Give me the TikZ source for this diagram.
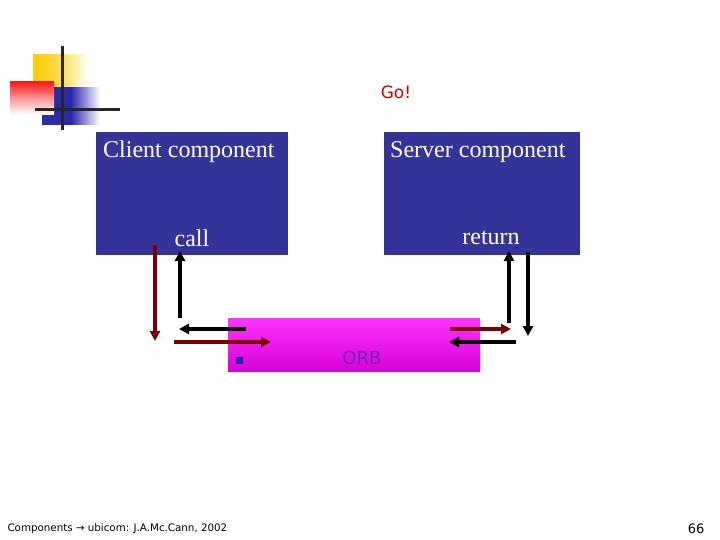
\documentclass[tikz,border=0pt]{standalone}
\usepackage{fontspec}
\setmainfont{Liberation Serif}
\newfontfamily\tah{DejaVu Sans}
\usetikzlibrary{arrows.meta}
\definecolor{boxblue}{HTML}{333399}
\definecolor{dred}{HTML}{7A0000}
\definecolor{gold}{HTML}{FFCC00}
\tikzset{comp/.style={fill=boxblue,draw=none},
 arr/.style={line width=3.8pt,-{Triangle[length=10pt,width=10pt]}},
 lbl/.style={text=white,font=\fontsize{24}{27}\selectfont,inner sep=0pt}}
\begin{document}
\begin{tikzpicture}[x=1pt,y=-1pt]
\useasboundingbox (0,0) rectangle (720,540);
% logo
\shade[left color=gold,right color=white,middle color=gold!70] (33,55) rectangle (88,97);
\shade[left color=boxblue!90!blue,right color=white,middle color=boxblue!80!blue] (42,88) rectangle (100,125);
\shade[top color=red!90,bottom color=white,middle color=red!40] (10,82) rectangle (54,115);
\draw[line width=3pt,black!85] (62,46) -- (62,130);
\draw[line width=3pt,black!85] (35,110) -- (120,110);
% title
\node[text=red!80!black,font=\tah\fontsize{17}{20}\selectfont] (go) at (396,92) {Go!};
% boxes
\fill[comp] (96,132) rectangle (288,255);
\fill[comp] (384,132) rectangle (580,255);
\node[lbl,anchor=west] (cl) at (103,152) {Client component};
\node[lbl,anchor=west] (sv) at (390,152) {Server component};
\node[lbl] (call) at (192,238) {call};
\node[lbl] (ret) at (491,238) {return};
\shade[top color=magenta!80!white,bottom color=magenta!85!black,draw=none] (228,318) rectangle (480,371);
\fill[boxblue!70!blue] (236,357) rectangle (243,364);
\node[text=boxblue!70!magenta,font=\tah\fontsize{18}{20}\selectfont] (orb) at (362,358) {ORB};
% arrows
\coordinate (a1) at (155,245); \coordinate (a2) at (155,341);
\coordinate (b1) at (180,318); \coordinate (b2) at (180,251);
\coordinate (c1) at (246,329); \coordinate (c2) at (179,329);
\coordinate (d1) at (174,342); \coordinate (d2) at (271,342);
\coordinate (e1) at (450,329); \coordinate (e2) at (511,329);
\coordinate (f1) at (516,342); \coordinate (f2) at (449,342);
\coordinate (g1) at (509,323); \coordinate (g2) at (509,251);
\coordinate (h1) at (528,252); \coordinate (h2) at (528,336);
\draw[arr,dred] (a1) -- (a2);
\draw[arr] (b1) -- (b2);
\draw[arr] (c1) -- (c2);
\draw[arr,dred] (d1) -- (d2);
\draw[arr,dred] (e1) -- (e2);
\draw[arr] (f1) -- (f2);
\draw[arr] (g1) -- (g2);
\draw[arr] (h1) -- (h2);
% footer
\node[anchor=west,font=\tah\fontsize{10.3}{12}\selectfont] (ft) at (4,529) {Components → ubicom: J.A.Mc.Cann, 2002};
\node[anchor=east,font=\tah\fontsize{13}{15}\selectfont] (pg) at (708,529) {66};
\end{tikzpicture}
\end{document}
